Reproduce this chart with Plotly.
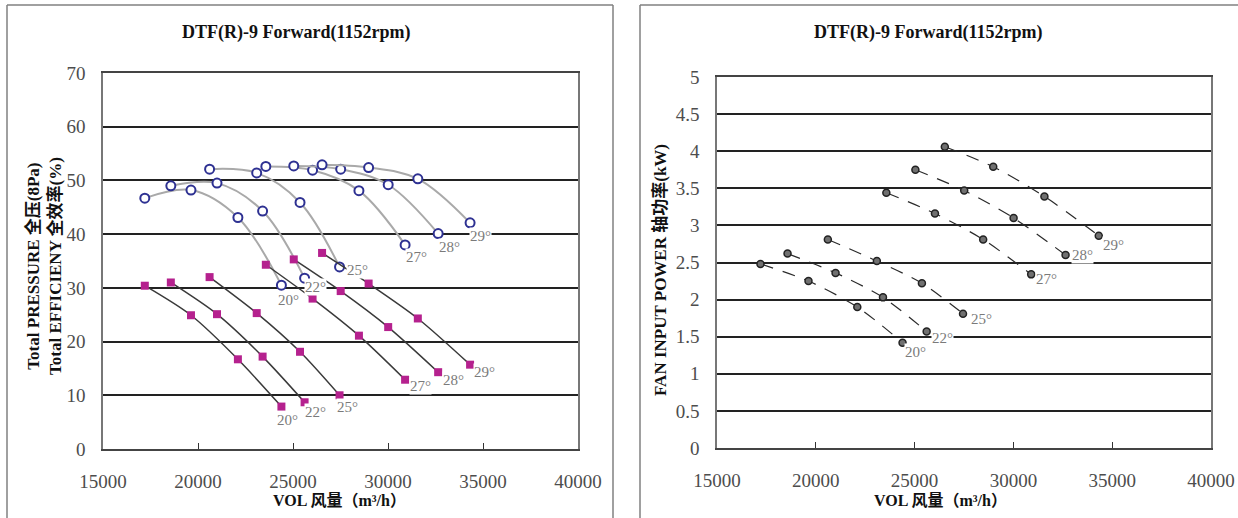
import plotly.graph_objects as go

# ---------------- data ----------------
angles = ["20°", "22°", "25°", "27°", "28°", "29°"]

volume = [
    [17200, 19630, 22100, 24390],
    [18570, 21000, 23400, 25610],
    [20610, 23090, 25370, 27450],
    [23570, 26030, 28470, 30900],
    [25040, 27510, 30010, 32640],
    [26530, 28980, 31570, 34320],
]

efficiency = [
    [46.7, 48.2, 43.1, 30.5],
    [49.0, 49.5, 44.3, 31.8],
    [52.1, 51.4, 45.9, 33.9],
    [52.6, 51.9, 48.1, 38.0],
    [52.7, 52.1, 49.2, 40.1],
    [52.9, 52.4, 50.3, 42.1],
]

pressure = [
    [30.4, 24.9, 16.7, 7.9],
    [31.0, 25.1, 17.2, 8.7],
    [32.0, 25.3, 18.1, 10.0],
    [34.3, 28.0, 21.1, 12.9],
    [35.3, 29.4, 22.7, 14.3],
    [36.5, 30.8, 24.3, 15.7],
]

power = [
    [2.48, 2.25, 1.90, 1.42],
    [2.62, 2.36, 2.03, 1.57],
    [2.81, 2.52, 2.22, 1.81],
    [3.44, 3.16, 2.81, 2.34],
    [3.75, 3.47, 3.10, 2.60],
    [4.06, 3.79, 3.39, 2.86],
]

x_ticks = [15000, 20000, 25000, 30000, 35000, 40000]
y1_ticks = [0, 10, 20, 30, 40, 50, 60, 70]
y2_ticks = [0, 0.5, 1, 1.5, 2, 2.5, 3, 3.5, 4, 4.5, 5]
y2_ticktext = ["0", "0.5", "1", "1.5", "2", "2.5", "3", "3.5", "4", "4.5", "5"]

title_text = "DTF(R)-9 Forward(1152rpm)"
x_title = "VOL 风量（m³/h）"
y1_title = "Total PRESSURE 全压(8Pa)<br>Total EFFICIENY 全效率(%)"
y2_title = "FAN INPUT POWER 轴功率(kW)"

# ---------------- styling ----------------
W, H = 1238, 518
LABEL_FONT = dict(family="Liberation Serif, serif", size=15, color="#7a7a7a")
TICK_FONT = dict(family="Liberation Serif, serif", size=19, color="#4d4d4d")
TITLE_FONT = dict(family="Liberation Serif, Noto Sans CJK SC, serif", size=18,
                  color="#111111", weight="bold")
AXT_FONT = dict(family="Liberation Serif, Noto Sans CJK SC, serif", size=16,
                color="#111111", weight="bold")
YT_FONT = dict(family="Liberation Serif, Noto Sans CJK SC, serif", size=17,
               color="#111111", weight="bold")

# label offsets (px) from last point of each curve
eff_off = [(7, 15), (11, 9), (18, 3), (11, 12), (11, 13), (10, 13)]
prs_off = [(6, 13), (11, 10), (8, 12), (15, 6), (15, 8), (14, 7)]
pwr_off = [(13, 9), (16, 6), (18, 5), (15, 5), (17, 0), (15, 9)]


def px(x):
    return x / W


def py(y):
    return 1 - y / H


fig = go.Figure()

for i, a in enumerate(angles):
    fig.add_trace(go.Scatter(
        x=volume[i], y=efficiency[i], mode="lines+markers", xaxis="x", yaxis="y",
        line=dict(color="#a9a9a9", width=2, shape="spline", smoothing=1),
        marker=dict(symbol="circle", size=9, color="white",
                    line=dict(color="#2e3192", width=2)),
        showlegend=False, hoverinfo="skip"))
    fig.add_trace(go.Scatter(
        x=volume[i], y=pressure[i], mode="lines+markers", xaxis="x", yaxis="y",
        line=dict(color="#3a3a3a", width=1.5, shape="spline", smoothing=0.8),
        marker=dict(symbol="square", size=8, color="#b5218e"),
        showlegend=False, hoverinfo="skip"))
    fig.add_trace(go.Scatter(
        x=volume[i], y=power[i], mode="lines+markers", xaxis="x2", yaxis="y2",
        line=dict(color="#2a2a2a", width=1.2, dash="13px,10px", shape="spline", smoothing=0.8),
        marker=dict(symbol="circle", size=7, color="#707070",
                    line=dict(color="#222222", width=1.5)),
        showlegend=False, hoverinfo="skip"))

annotations = []
for i, a in enumerate(angles):
    for series, offs, xr, yr in ((efficiency, eff_off, "x", "y"),
                                 (pressure, prs_off, "x", "y"),
                                 (power, pwr_off, "x2", "y2")):
        dx, dy = offs[i]
        annotations.append(dict(
            x=volume[i][-1], y=series[i][-1], xref=xr, yref=yr,
            text=a, showarrow=False, font=LABEL_FONT,
            xanchor="center", yanchor="middle",
            xshift=dx, yshift=-dy, bgcolor="white", borderpad=0))

# titles
annotations += [
    dict(x=px(296), y=py(33), xref="paper", yref="paper", text=title_text,
         showarrow=False, font=TITLE_FONT, xanchor="center", yanchor="middle"),
    dict(x=px(928), y=py(33), xref="paper", yref="paper", text=title_text,
         showarrow=False, font=TITLE_FONT, xanchor="center", yanchor="middle"),
    dict(x=px(340), y=py(500), xref="paper", yref="paper", text=x_title,
         showarrow=False, font=AXT_FONT, xanchor="center", yanchor="middle"),
    dict(x=px(940), y=py(500), xref="paper", yref="paper", text=x_title,
         showarrow=False, font=AXT_FONT, xanchor="center", yanchor="middle"),
    dict(x=px(44), y=py(266), xref="paper", yref="paper", text=y1_title,
         showarrow=False, font=YT_FONT, textangle=-90,
         xanchor="center", yanchor="middle"),
    dict(x=px(660), y=py(270), xref="paper", yref="paper", text=y2_title,
         showarrow=False, font=YT_FONT, textangle=-90,
         xanchor="center", yanchor="middle"),
]

BORDER = dict(color="#808080", width=1.5)
shapes = [
    # left panel frame (top, left, right)
    dict(type="line", xref="paper", yref="paper", x0=px(7), x1=px(613), y0=py(5), y1=py(5), line=BORDER),
    dict(type="line", xref="paper", yref="paper", x0=px(7), x1=px(7), y0=py(5), y1=0, line=BORDER),
    dict(type="line", xref="paper", yref="paper", x0=px(613), x1=px(613), y0=py(5), y1=0, line=BORDER),
    # right panel frame (top, left)
    dict(type="line", xref="paper", yref="paper", x0=px(640), x1=1, y0=py(5), y1=py(5), line=BORDER),
    dict(type="line", xref="paper", yref="paper", x0=px(640), x1=px(640), y0=py(5), y1=0, line=BORDER),
]

xcommon = dict(range=[15000, 40000], tickvals=x_ticks, showgrid=False,
               zeroline=False, ticks="inside", ticklen=6, tickcolor="#333333",
               tickwidth=1, showline=True, linecolor="#444444", linewidth=1.5,
               mirror=True, tickfont=TICK_FONT, ticklabelstandoff=14,
               tickformat="d", automargin=False)
ycommon = dict(showgrid=True, gridcolor="#222222", gridwidth=1.6,
               zeroline=False, ticks="", showline=True, linecolor="#777777",
               linewidth=1.5, mirror=True, tickfont=TICK_FONT,
               ticklabelstandoff=12, automargin=False)

fig.update_layout(
    width=W, height=H,
    margin=dict(l=0, r=0, t=0, b=0, pad=0, autoexpand=False),
    paper_bgcolor="white", plot_bgcolor="white",
    xaxis=dict(domain=[px(103), px(578)], anchor="y", **xcommon),
    yaxis=dict(domain=[py(449), py(73)], anchor="x", range=[0, 70],
               tickvals=y1_ticks, **ycommon),
    xaxis2=dict(domain=[px(717), px(1211)], anchor="y2", **xcommon),
    yaxis2=dict(domain=[py(448), py(77)], anchor="x2", range=[0, 5],
                tickvals=y2_ticks, ticktext=y2_ticktext, **ycommon),
    annotations=annotations,
    shapes=shapes,
)

fig.write_html(
    "out.html",
    config={"displayModeBar": False},
    post_script="document.body.style.margin='0';document.body.style.overflow='hidden';",
)
